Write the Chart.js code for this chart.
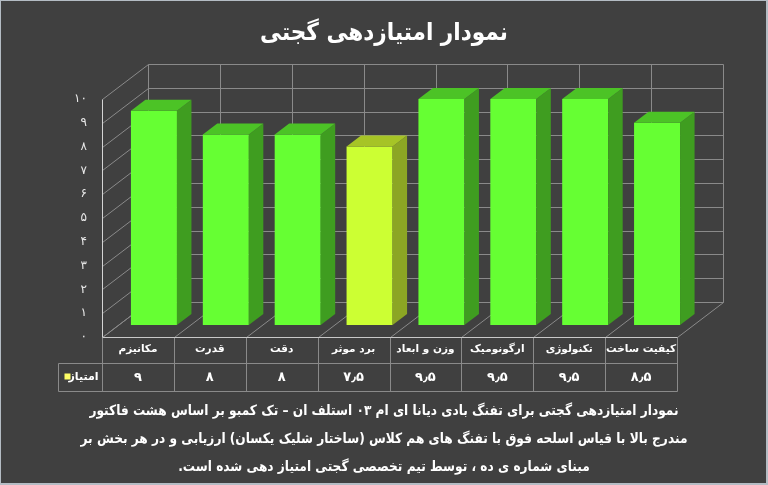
<!DOCTYPE html>
<html lang="fa">
<head>
<meta charset="utf-8">
<script src="https://cdn.jsdelivr.net/npm/chart.js@4.4.1/dist/chart.umd.min.js"></script>
<style>
  body { margin: 0; background: #404040; }
  #wrap { position: relative; width: 768px; height: 485px; background: #404040; overflow: hidden; }
  #frame { position: absolute; left: 0; top: 0; width: 768px; height: 485px; box-sizing: border-box;
           border-style: solid; border-color: #b4bcc4; border-width: 1px 2px 2px 1px; pointer-events: none; }
  #title { position: absolute; top: 18px; left: 0; width: 768px; text-align: center; color: #fff;
           font: bold 24px "DejaVu Sans", sans-serif; direction: rtl; transform: scaleX(0.9); }
  #caption { position: absolute; top: 396px; left: 0; width: 768px; text-align: center; color: #fff;
             font: bold 14px/28px "DejaVu Sans", sans-serif; direction: rtl; white-space: nowrap;
             transform: scaleX(0.87); }
  canvas { position: absolute; left: 0; top: 0; }
</style>
</head>
<body>
<div id="wrap">
  <canvas id="chart" width="768" height="485"></canvas>
  <div id="title">نمودار امتیازدهی گجتی</div>
  <div id="caption">
    نمودار امتیازدهی گجتی برای تفنگ بادی دیانا ای ام ۰۳ استلف ان – تک کمبو بر اساس هشت فاکتور<br>
    مندرج بالا با قیاس اسلحه فوق با تفنگ های هم کلاس (ساختار شلیک یکسان) ارزیابی و در هر بخش بر<br>
    مبنای شماره ی ده ، توسط تیم تخصصی گجتی امتیاز دهی شده است.
  </div>
  <div id="frame"></div>
</div>
<script>
  // chart data
  const categories = ['مکانیزم', 'قدرت', 'دقت', 'برد موثر', 'وزن و ابعاد', 'ارگونومیک', 'تکنولوژی', 'کیفیت ساخت'];
  const scores = [9, 8, 8, 7.5, 9.5, 9.5, 9.5, 8.5];
  const yTickLabels = ['۰', '۱', '۲', '۳', '۴', '۵', '۶', '۷', '۸', '۹', '۱۰'];
  const seriesName = 'امتیاز';
  const highlighted = 'برد موثر';

  // depth offsets of the fake 3d box, relative to the bar front plane
  const FRONT = { dx: -16, dy: 12 };
  const BACK = { dx: 30, dy: -23 };
  const BAR = { dx: 14.5, dy: -11 };

  const faDigits = '۰۱۲۳۴۵۶۷۸۹';
  function toFa(v) {
    return String(v).replace(/\d/g, d => faDigits[d]).replace('.', '٫');
  }

  const isHi = i => categories[i] === highlighted;

  const threeD = {
    id: 'threeD',
    beforeDatasetsDraw(chart) {
      const { ctx, chartArea: a, scales: { x, y } } = chart;
      const n = categories.length;
      const colW = (a.right - a.left) / n;
      const y0 = y.getPixelForValue(y.min);
      const yTop = y.getPixelForValue(y.max);
      const line = (x1, y1, x2, y2) => {
        ctx.beginPath();
        ctx.moveTo(Math.round(x1) + 0.5, Math.round(y1) + 0.5);
        ctx.lineTo(Math.round(x2) + 0.5, Math.round(y2) + 0.5);
        ctx.stroke();
      };
      ctx.save();
      ctx.strokeStyle = '#8a8a8a';
      ctx.lineWidth = 1;
      // back wall rows + side wall diagonals
      for (let v = y.min; v <= y.max; v++) {
        const py = y.getPixelForValue(v);
        line(a.left + BACK.dx, py + BACK.dy, a.right + BACK.dx, py + BACK.dy);
        line(a.left + FRONT.dx, py + FRONT.dy, a.left + BACK.dx, py + BACK.dy);
      }
      // back wall columns + floor diagonals
      for (let i = 0; i <= n; i++) {
        const px = a.left + i * colW;
        line(px + BACK.dx, yTop + BACK.dy, px + BACK.dx, y0 + BACK.dy);
        line(px + FRONT.dx, y0 + FRONT.dy, px + BACK.dx, y0 + BACK.dy);
      }
      // front edge of the side wall
      ctx.strokeStyle = '#d4d4d4';
      line(a.left + FRONT.dx, yTop + FRONT.dy, a.left + FRONT.dx, y0 + FRONT.dy);
      ctx.restore();
    },
    afterDatasetsDraw(chart) {
      const { ctx } = chart;
      const meta = chart.getDatasetMeta(0);
      ctx.save();
      meta.data.forEach((bar, i) => {
        const { x: cx, y: top, base, width } = bar.getProps(['x', 'y', 'base', 'width'], true);
        const l = cx - width / 2, r = cx + width / 2;
        // side face
        ctx.fillStyle = isHi(i) ? '#8ca624' : '#3f9d20';
        ctx.beginPath();
        ctx.moveTo(r, top);
        ctx.lineTo(r + BAR.dx, top + BAR.dy);
        ctx.lineTo(r + BAR.dx, base + BAR.dy);
        ctx.lineTo(r, base);
        ctx.closePath();
        ctx.fill();
        // top face
        ctx.fillStyle = isHi(i) ? '#a6c426' : '#4cc326';
        ctx.beginPath();
        ctx.moveTo(l, top);
        ctx.lineTo(l + BAR.dx, top + BAR.dy);
        ctx.lineTo(r + BAR.dx, top + BAR.dy);
        ctx.lineTo(r, top);
        ctx.closePath();
        ctx.fill();
      });
      ctx.restore();
    },
    afterDraw(chart) {
      // data table under the floor
      const { ctx, chartArea: a, scales: { x, y } } = chart;
      const n = categories.length;
      const colW = (a.right - a.left) / n;
      const t0 = Math.round(y.getPixelForValue(y.min) + FRONT.dy) + 0.5;
      const t1 = t0 + 26, t2 = t0 + 54;
      const left = Math.round(a.left + FRONT.dx) + 0.5;
      const right = Math.round(a.right + FRONT.dx) + 0.5;
      const legendLeft = left - 44;
      ctx.save();
      ctx.strokeStyle = '#8a8a8a';
      ctx.lineWidth = 1;
      ctx.beginPath();
      ctx.moveTo(legendLeft, t1); ctx.lineTo(right, t1);
      ctx.moveTo(legendLeft, t2); ctx.lineTo(right, t2);
      ctx.moveTo(legendLeft, t1); ctx.lineTo(legendLeft, t2);
      for (let i = 0; i <= n; i++) {
        const px = Math.round(a.left + i * colW + FRONT.dx) + 0.5;
        ctx.moveTo(px, t0); ctx.lineTo(px, t2);
      }
      ctx.stroke();
      ctx.strokeStyle = '#c8c8c8';
      ctx.beginPath();
      ctx.moveTo(left, t0); ctx.lineTo(right, t0);
      ctx.stroke();

      ctx.fillStyle = '#ffffff';
      ctx.textAlign = 'center';
      ctx.textBaseline = 'middle';
      ctx.font = 'bold 13px "DejaVu Sans"';
      scores.forEach((v, i) => {
        const cx = x.getPixelForValue(i) + FRONT.dx;
        ctx.fillText(toFa(v), cx, (t1 + t2) / 2);
      });
      ctx.font = 'bold 11px "DejaVu Sans"';
      ctx.textAlign = 'right';
      ctx.fillText(seriesName, left - 4, (t1 + t2) / 2);
      ctx.fillStyle = '#ffff66';
      ctx.fillRect(legendLeft + 6, (t1 + t2) / 2 - 4, 6, 6);
      ctx.restore();
    }
  };

  new Chart(document.getElementById('chart'), {
    type: 'bar',
    data: {
      labels: categories,
      datasets: [{
        label: seriesName,
        data: scores,
        backgroundColor: ctx => isHi(ctx.dataIndex) ? '#ccff33' : '#66ff33',
        borderWidth: 0,
        categoryPercentage: 1,
        barPercentage: 0.64
      }]
    },
    options: {
      responsive: false,
      animation: false,
      layout: { padding: { top: 87, left: 0, right: 75, bottom: 0 } },
      plugins: {
        legend: { display: false },
        tooltip: { enabled: false },
        title: { display: false }
      },
      scales: {
        x: {
          grid: { display: false, drawTicks: false },
          border: { display: false },
          afterFit(scale) { scale.height = 160; },
          ticks: {
            color: '#ffffff',
            font: { family: 'DejaVu Sans', size: 10.5, weight: 'bold' },
            padding: 18,
            labelOffset: FRONT.dx,
            maxRotation: 0,
            autoSkip: false
          }
        },
        y: {
          min: 0,
          max: 10,
          grid: { display: false, drawTicks: false },
          border: { display: false },
          afterFit(scale) { scale.width = 118; },
          ticks: {
            stepSize: 1,
            color: '#e8e8e8',
            font: { family: 'DejaVu Sans', size: 12 },
            padding: 31,
            labelOffset: FRONT.dy,
            callback: v => yTickLabels[v]
          }
        }
      }
    },
    plugins: [threeD]
  });
</script>
</body>
</html>
